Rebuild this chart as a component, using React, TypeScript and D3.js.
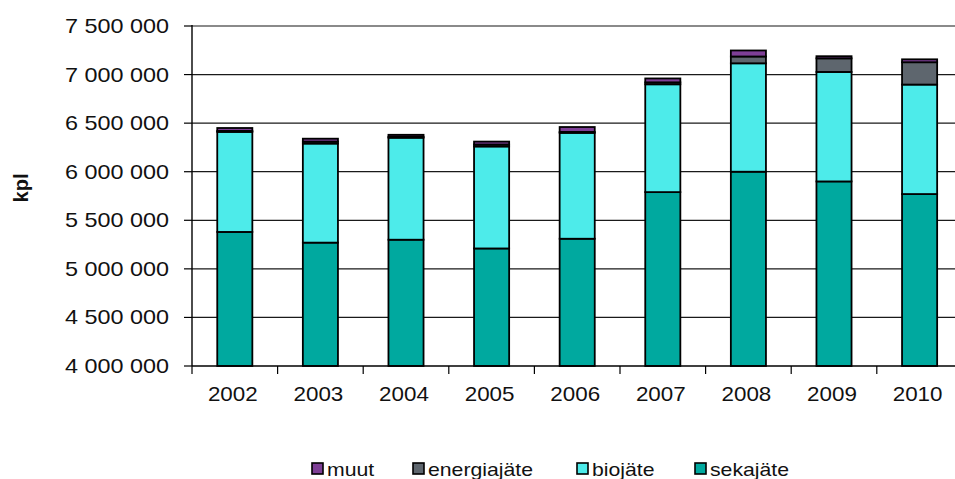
import React from "react";
import * as d3 from "d3";

const years = ["2002", "2003", "2004", "2005", "2006", "2007", "2008", "2009", "2010"];
const sekajate = [5380000, 5270000, 5300000, 5210000, 5310000, 5790000, 6000000, 5900000, 5770000];
const biojate = [1030000, 1020000, 1050000, 1050000, 1090000, 1110000, 1116000, 1127000, 1127000];
const energiajate = [10000, 20000, 10000, 20000, 10000, 20000, 70000, 140000, 230000];
const muut = [30000, 30000, 20000, 30000, 50000, 40000, 62000, 22000, 30000];
const yTicks = [4000000, 4500000, 5000000, 5500000, 6000000, 6500000, 7000000, 7500000];

const seriesKeys = ["sekajate", "biojate", "energiajate", "muut"];
const colors: Record<string, string> = {
  sekajate: "#00A99F",
  biojate: "#4DEBEA",
  energiajate: "#5E666E",
  muut: "#7E3F96",
};
const legendItems = [
  { key: "muut", label: "muut", x: 312 },
  { key: "energiajate", label: "energiajäte", x: 413 },
  { key: "biojate", label: "biojäte", x: 577 },
  { key: "sekajate", label: "sekajäte", x: 695 },
];

const fmt = (v: number) => d3.format(",")(v).replace(/,/g, " ");

export default function App() {
  const W = 955, H = 479;
  const left = 192, top = 26, bottom = 366;
  const step = 85.6;
  const x = d3.scaleBand<string>().domain(years).range([left, left + step * years.length]).paddingInner(0.59).paddingOuter(0.295);
  const y = d3.scaleLinear().domain([4000000, 7500000]).range([bottom, top]).clamp(true);

  const rows = years.map((yr, i) => ({
    year: yr,
    sekajate: sekajate[i],
    biojate: biojate[i],
    energiajate: energiajate[i],
    muut: muut[i],
  }));
  const stacked = d3.stack<any>().keys(seriesKeys)(rows);

  const font = "'Liberation Sans', Arial, sans-serif";

  return (
    <svg width={W} height={H} style={{ position: "absolute", left: 0, top: 0, background: "#fff" }} fontFamily={font}>
      {yTicks.slice(1).map((t) => (
        <line key={t} x1={left} x2={W + 20} y1={y(t)} y2={y(t)}
          stroke={t === 7500000 ? "#8a8a8a" : "#1a1a1a"} strokeWidth={t === 7500000 ? 2 : 1.2} />
      ))}
      {stacked.map((layer) => (
        <g key={layer.key} fill={colors[layer.key]} stroke="#000" strokeWidth={1.8}>
          {layer.map((d, i) => {
            const y0 = y(d[0]);
            const y1 = y(d[1]);
            return (
              <rect key={i} x={x(years[i])!} width={x.bandwidth()} y={y1} height={Math.max(0, y0 - y1)} />
            );
          })}
        </g>
      ))}
      <line x1={left} x2={left} y1={top - 1} y2={bottom} stroke="#000" strokeWidth={1.4} />
      <line x1={left} x2={W + 20} y1={bottom} y2={bottom} stroke="#000" strokeWidth={1.4} />
      {yTicks.map((t) => (
        <g key={t}>
          <line x1={left - 8} x2={left} y1={y(t)} y2={y(t)} stroke="#000" strokeWidth={1.2} />
          <text transform={`translate(169,${y(t) + 7}) scale(1.17,1)`} textAnchor="end" fontSize={20} fill="#111">
            {fmt(t)}
          </text>
        </g>
      ))}
      {d3.range(years.length + 1).map((i) => (
        <line key={i} x1={left + step * i} x2={left + step * i} y1={bottom} y2={bottom + 8} stroke="#000" strokeWidth={1.2} />
      ))}
      {years.map((yr) => (
        <text key={yr} transform={`translate(${x(yr)! + x.bandwidth() / 2 - 2},401) scale(1.12,1)`} textAnchor="middle" fontSize={20} fill="#111">
          {yr}
        </text>
      ))}
      <text transform="translate(28,188) rotate(-90)" textAnchor="middle" fontSize={20} fontWeight="bold" fill="#111">
        kpl
      </text>
      {legendItems.map((it) => (
        <g key={it.key}>
          <rect x={it.x} y={463} width={11} height={11} fill={colors[it.key]} stroke="#000" strokeWidth={1.6} />
          <text transform={`translate(${it.x + 15},476) scale(1.18,1)`} fontSize={18} fill="#111">
            {it.label}
          </text>
        </g>
      ))}
    </svg>
  );
}
